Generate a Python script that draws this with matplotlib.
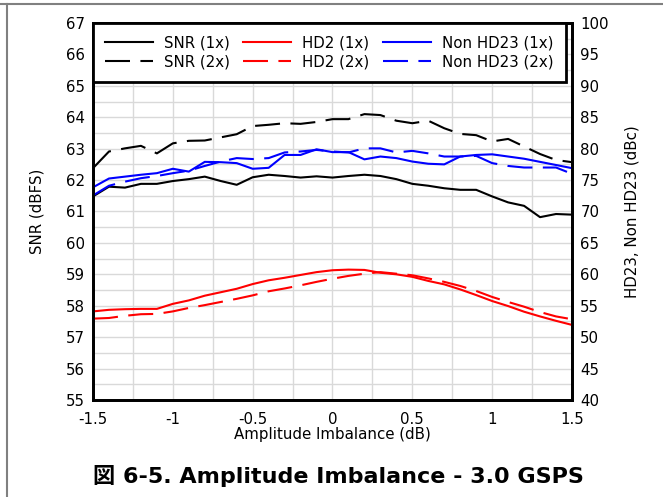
# AMPLITUDE IMBALANCE - 3.0 GSPS
# SNR en eje izquierdo, HD2 y Non HD23 en eje derecho

import matplotlib
matplotlib.use("Agg")
import matplotlib.pyplot as plt
from matplotlib.lines import Line2D
from matplotlib.ticker import MultipleLocator

# DATOS
imbalance = [-1.5, -1.4, -1.3, -1.2, -1.1, -1.0, -0.9, -0.8, -0.7, -0.6,
             -0.5, -0.4, -0.3, -0.2, -0.1, 0.0, 0.1, 0.2, 0.3, 0.4,
             0.5, 0.6, 0.7, 0.8, 0.9, 1.0, 1.1, 1.2, 1.3, 1.4, 1.5]

snr_1x = [61.48, 61.79, 61.76, 61.88, 61.88, 61.97, 62.03, 62.11, 61.97, 61.85,
          62.09, 62.17, 62.13, 62.08, 62.12, 62.08, 62.13, 62.17, 62.13, 62.03,
          61.88, 61.82, 61.74, 61.69, 61.69, 61.48, 61.29, 61.18, 60.82, 60.92,
          60.90]

snr_2x = [62.38, 62.91, 63.01, 63.09, 62.85, 63.17, 63.25, 63.26, 63.36, 63.46,
          63.72, 63.76, 63.81, 63.79, 63.85, 63.94, 63.94, 64.10, 64.07, 63.89,
          63.81, 63.89, 63.65, 63.47, 63.43, 63.23, 63.31, 63.07, 62.83, 62.64,
          62.57]

hd2_1x = [54.10, 54.35, 54.45, 54.50, 54.50, 55.30, 55.85, 56.60, 57.15, 57.70,
          58.45, 59.05, 59.45, 59.90, 60.35, 60.65, 60.75, 60.70, 60.25, 60.00,
          59.60, 58.95, 58.40, 57.60, 56.70, 55.75, 54.95, 54.05, 53.30, 52.60,
          51.95]

hd2_2x = [52.95, 53.05, 53.40, 53.65, 53.70, 54.10, 54.65, 55.10, 55.60, 56.10,
          56.65, 57.30, 57.75, 58.25, 58.80, 59.30, 59.75, 60.10, 60.35, 60.10,
          59.85, 59.35, 58.80, 58.15, 57.35, 56.40, 55.60, 54.85, 54.00, 53.30,
          52.85]

nonhd23_1x = [73.85, 75.25, 75.55, 75.85, 76.10, 76.80, 76.35, 77.90, 77.85, 77.70,
              76.80, 76.95, 79.00, 79.00, 79.90, 79.45, 79.45, 78.30, 78.75, 78.50,
              77.95, 77.60, 77.50, 78.75, 79.00, 79.10, 78.75, 78.40, 77.90, 77.40,
              76.90]

nonhd23_2x = [72.55, 74.10, 74.75, 75.30, 75.65, 76.10, 76.50, 77.25, 77.95, 78.50,
              78.35, 78.50, 79.40, 79.55, 79.80, 79.55, 79.40, 80.05, 80.05, 79.40,
              79.65, 79.25, 78.75, 78.75, 78.85, 77.70, 77.25, 77.00, 77.00, 77.00,
              76.00]

x_ticks = [-1.5, -1, -0.5, 0, 0.5, 1, 1.5]
x_tick_labels = ["-1.5", "-1", "-0.5", "0", "0.5", "1", "1.5"]

# FUENTES
plt.rcParams["font.family"] = ["DejaVu Sans", "Noto Sans CJK JP"]
plt.rcParams["font.size"] = 10.8

DASH = (0, (12, 5))
LW = 1.5

fig = plt.figure(figsize=(6.63, 4.97), dpi=100)
ax = fig.add_axes([0.1403, 0.1952, 0.7224, 0.7585])
ax2 = ax.twinx()

# EJE IZQUIERDO - SNR
l1, = ax.plot(imbalance, snr_1x, color="black", lw=LW, label="SNR (1x)")
l2, = ax.plot(imbalance, snr_2x, color="black", lw=LW, linestyle=DASH, label="SNR (2x)")

# EJE DERECHO - HD2 Y NON HD23
l3, = ax2.plot(imbalance, hd2_1x, color="#ff0000", lw=LW, label="HD2 (1x)")
l4, = ax2.plot(imbalance, hd2_2x, color="#ff0000", lw=LW, linestyle=DASH, label="HD2 (2x)")
l5, = ax2.plot(imbalance, nonhd23_1x, color="#0000ff", lw=LW, label="Non HD23 (1x)")
l6, = ax2.plot(imbalance, nonhd23_2x, color="#0000ff", lw=LW, linestyle=DASH, label="Non HD23 (2x)")

# LIMITES Y TICKS
ax.set_xlim(-1.5, 1.5)
ax.set_ylim(55, 67)
ax2.set_ylim(40, 100)
ax.set_xticks(x_ticks)
ax.set_xticklabels(x_tick_labels)
ax.xaxis.set_minor_locator(MultipleLocator(0.25))
ax.yaxis.set_major_locator(MultipleLocator(1))
ax.yaxis.set_minor_locator(MultipleLocator(0.5))
ax2.yaxis.set_major_locator(MultipleLocator(5))

ax.tick_params(axis="both", which="both", length=0)
ax.tick_params(axis="x", pad=9)
ax.tick_params(axis="y", pad=6)
ax2.tick_params(axis="y", which="both", length=0, pad=6)

# GRILLA
ax.grid(True, which="both", color="#d9d9d9", lw=1.0)
ax.set_axisbelow(True)

for a in (ax, ax2):
    for s in a.spines.values():
        s.set_linewidth(2)
        s.set_color("black")

# ETIQUETAS
ax.set_xlabel("Amplitude Imbalance (dB)", labelpad=0)
ax.set_ylabel("SNR (dBFS)", labelpad=15)
ax2.set_ylabel("HD23, Non HD23 (dBc)", labelpad=11)

# LEYENDA
leg = ax2.legend(handles=[l1, l2, l3, l4, l5, l6], ncol=3,
                 loc="upper left", bbox_to_anchor=(0, 1),
                 borderaxespad=0, fancybox=False, framealpha=1,
                 handlelength=3.2, handletextpad=0.73,
                 columnspacing=0.9, labelspacing=0.3, borderpad=0.8)
leg.get_frame().set_edgecolor("black")
leg.get_frame().set_linewidth(2)

# TITULO
fig.text(0.51, 0.042, "図 6-5. Amplitude Imbalance - 3.0 GSPS",
         ha="center", va="center", fontsize=16, fontweight="bold")

# MARCO
fig.add_artist(Line2D([0, 1], [0.991, 0.991], color="#808080", lw=1.5))
fig.add_artist(Line2D([0.0106, 0.0106], [0, 0.991], color="#808080", lw=1.5))

fig.savefig("out.png", dpi=100)
